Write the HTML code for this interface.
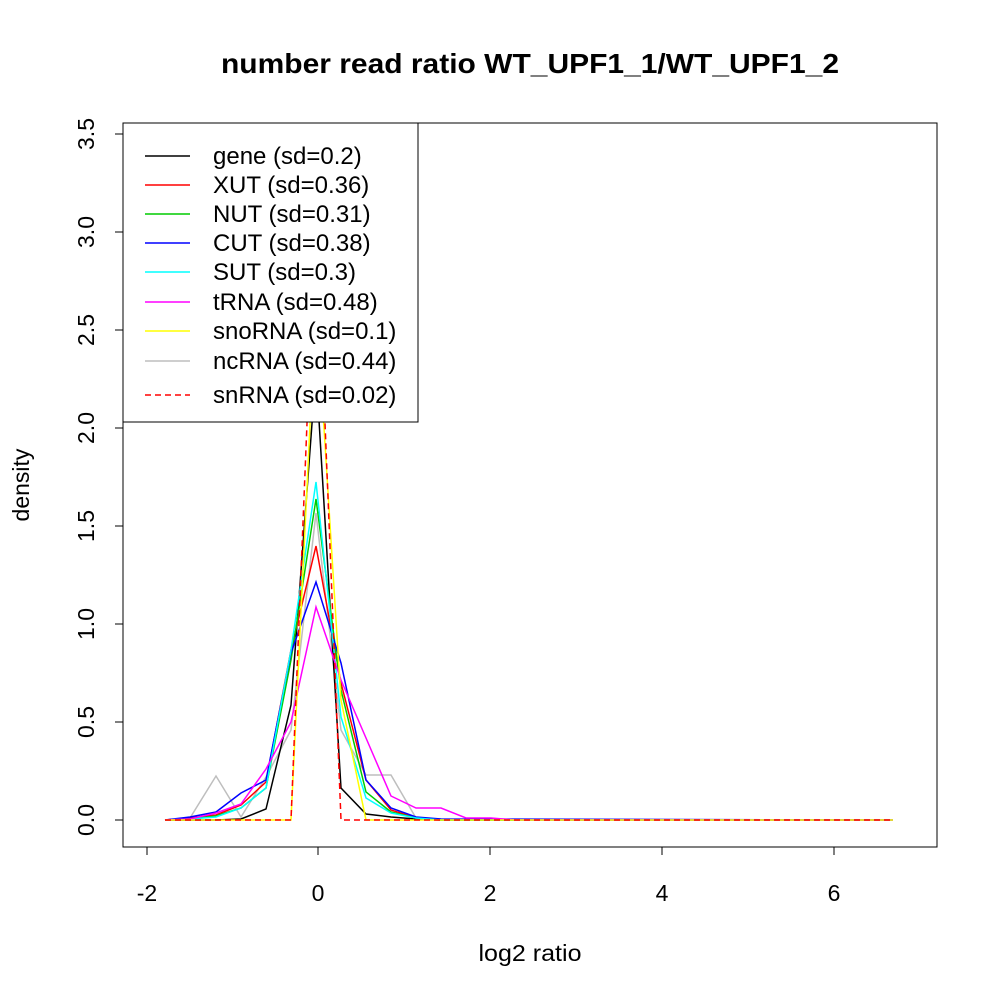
<!DOCTYPE html><html><head><style>body{margin:0;background:#fff}</style></head><body>
<svg width="1000" height="1000" xmlns="http://www.w3.org/2000/svg" font-family="Liberation Sans, sans-serif">
<rect width="1000" height="1000" fill="#fff"/>
<text x="530" y="73" font-size="28" font-weight="bold" text-anchor="middle" textLength="618" lengthAdjust="spacingAndGlyphs">number read ratio WT_UPF1_1/WT_UPF1_2</text>
<text x="530" y="961" font-size="23" text-anchor="middle" textLength="103" lengthAdjust="spacingAndGlyphs">log2 ratio</text>
<text transform="translate(29,485) rotate(-90)" font-size="23" text-anchor="middle">density</text>
<g stroke="#000" fill="none" stroke-width="1">
<rect x="123" y="123" width="814" height="724"/>
<path d="M147 847V855M318 847V855M490 847V855M662 847V855M834 847V855M147 847H834"/>
<path d="M123 820H115M123 722H115M123 624H115M123 526H115M123 428H115M123 330H115M123 232H115M123 134H115M123 134V820"/>
</g>
<g font-size="23" text-anchor="middle">
<text x="147" y="901">-2</text><text x="318" y="901">0</text><text x="490" y="901">2</text><text x="662" y="901">4</text><text x="834" y="901">6</text>
<g transform="rotate(-90)">
<text x="-820" y="94">0.0</text><text x="-722" y="94">0.5</text><text x="-624" y="94">1.0</text><text x="-526" y="94">1.5</text><text x="-428" y="94">2.0</text><text x="-330" y="94">2.5</text><text x="-232" y="94">3.0</text><text x="-134" y="94">3.5</text>
</g></g>
<g fill="none" stroke-width="1.5">
<polyline stroke="#bebebe" points="165,820 190,818 216,776 241,817 266,777 291,730 316,513 341,730 366,775 391,775 416,818 441,820 893,820"/>
<polyline stroke="#000" points="165,820 190,820 216,820 241,819 266,809 291,705 316,370 341,788 366,814 391,817 416,819 441,820 893,820"/>
<polyline stroke="#f00" points="165,820 190,818 216,815 241,805 266,782 291,650 316,546 341,683 366,780 391,810 416,818 441,820 893,820"/>
<polyline stroke="#0c0" points="165,820 190,819 216,816 241,808 266,788 291,660 316,499 341,690 366,792 391,812 416,818 441,820 893,820"/>
<polyline stroke="#00f" points="165,820 190,817 216,812 241,793 266,780 291,653 316,582 341,663 366,780 391,808 416,817 441,819 893,820"/>
<polyline stroke="#0ff" points="165,820 190,819 216,817 241,808 266,788 291,650 316,482 341,717 366,798 391,813 416,818 441,820 893,820"/>
<polyline stroke="#f0f" points="165,820 190,819 216,813 241,804 266,769 291,722 316,607 341,680 366,738 391,796 416,808 441,808 466,818 491,818 516,820 893,820"/>
<polyline stroke="#ff0" points="165,820 291,820 316,300 341,700 366,820 893,820"/>
<polyline stroke="#f00" stroke-dasharray="6,4" points="165,820 291,820 316,200 341,820 893,820"/>
</g>
<rect x="123" y="123" width="295" height="299" fill="#fff" stroke="#000"/>
<g stroke-width="1.5">
<line x1="145" y1="156" x2="190" y2="156" stroke="#000"/>
<line x1="145" y1="185" x2="190" y2="185" stroke="#f00"/>
<line x1="145" y1="214" x2="190" y2="214" stroke="#0c0"/>
<line x1="145" y1="243" x2="190" y2="243" stroke="#00f"/>
<line x1="145" y1="272" x2="190" y2="272" stroke="#0ff"/>
<line x1="145" y1="302" x2="190" y2="302" stroke="#f0f"/>
<line x1="145" y1="331" x2="190" y2="331" stroke="#ff0"/>
<line x1="145" y1="361" x2="190" y2="361" stroke="#bebebe"/>
<line x1="145" y1="395" x2="190" y2="395" stroke="#f00" stroke-dasharray="6,4"/>
</g>
<g font-size="24">
<text x="213" y="164">gene (sd=0.2)</text>
<text x="213" y="193">XUT (sd=0.36)</text>
<text x="213" y="222">NUT (sd=0.31)</text>
<text x="213" y="251">CUT (sd=0.38)</text>
<text x="213" y="280">SUT (sd=0.3)</text>
<text x="213" y="310">tRNA (sd=0.48)</text>
<text x="213" y="339">snoRNA (sd=0.1)</text>
<text x="213" y="369">ncRNA (sd=0.44)</text>
<text x="213" y="403">snRNA (sd=0.02)</text>
</g>
</svg></body></html>
